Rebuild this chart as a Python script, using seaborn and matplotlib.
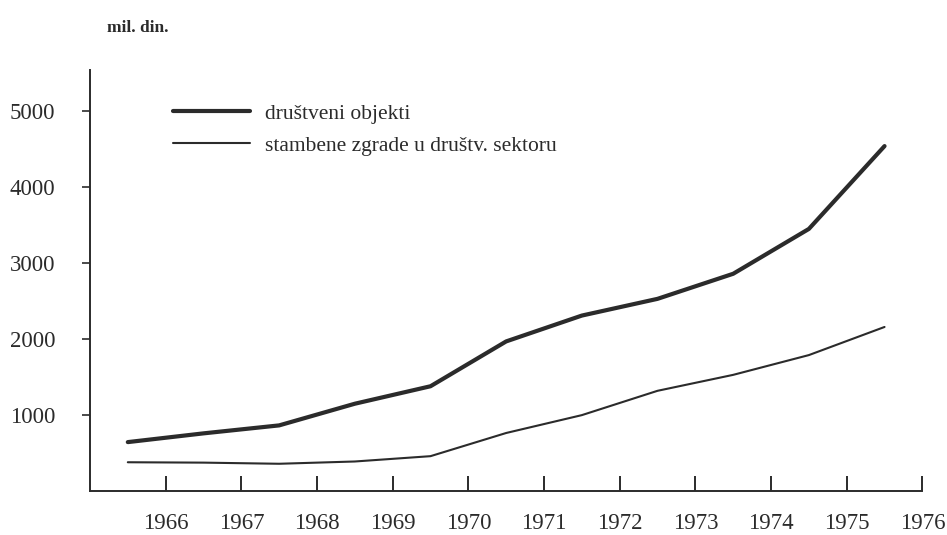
import matplotlib
matplotlib.use("Agg")
import matplotlib.pyplot as plt
import pandas as pd
import seaborn as sns

# values (mil. din.), plotted at mid-year
years = [1965.5, 1966.5, 1967.5, 1968.5, 1969.5, 1970.5,
         1971.5, 1972.5, 1973.5, 1974.5, 1975.5]
drustveni = [645, 760, 865, 1150, 1380, 1970, 2310, 2530, 2860, 3450, 4540]
stambene = [380, 375, 360, 390, 460, 765, 1000, 1320, 1530, 1790, 2160]

x_ticks = list(range(1966, 1977))
y_ticks = [1000, 2000, 3000, 4000, 5000]

label_thick = "društveni objekti"
label_thin = "stambene zgrade u društv. sektoru"

df = pd.DataFrame({"godina": years, "drustveni": drustveni, "stambene": stambene})

sns.set_theme(style="ticks")
plt.rcParams["font.family"] = ["Liberation Serif", "DejaVu Serif"]

ink = "#2b2b2b"
fig = plt.figure(figsize=(9.47, 5.35), dpi=100)
ax = fig.add_axes([0.095, 0.082, 0.879, 0.787])

sns.lineplot(data=df, x="godina", y="drustveni", ax=ax, color=ink,
             linewidth=3.0, label=label_thick)
sns.lineplot(data=df, x="godina", y="stambene", ax=ax, color=ink,
             linewidth=1.5, label=label_thin)

ax.set_xlim(1965.0, 1976.0)
ax.set_ylim(0, 5540)
ax.set_xticks(x_ticks)
ax.set_yticks(y_ticks)
ax.set_xticklabels([str(y) for y in x_ticks], fontsize=16.5)
ax.set_yticklabels([str(v) for v in y_ticks], fontsize=16.5)
ax.set_xlabel("")
ax.set_ylabel("")

sns.despine(ax=ax)
for side in ("left", "bottom"):
    ax.spines[side].set_linewidth(1.4)
    ax.spines[side].set_color(ink)
ax.tick_params(axis="x", direction="in", length=11, width=1.4, pad=16, colors=ink)
ax.tick_params(axis="y", direction="out", length=6, width=1.2, pad=19, colors=ink)

ax.legend(loc="upper left", bbox_to_anchor=(0.09, 0.94), frameon=False,
          fontsize=15.5, handlelength=3.55, handletextpad=0.7, labelspacing=0.55,
          borderaxespad=0, labelcolor=ink)

fig.text(0.113, 0.947, "mil. din.", fontsize=12.5, fontweight="bold", color=ink,
         va="center")

fig.savefig("out.png", dpi=100)
